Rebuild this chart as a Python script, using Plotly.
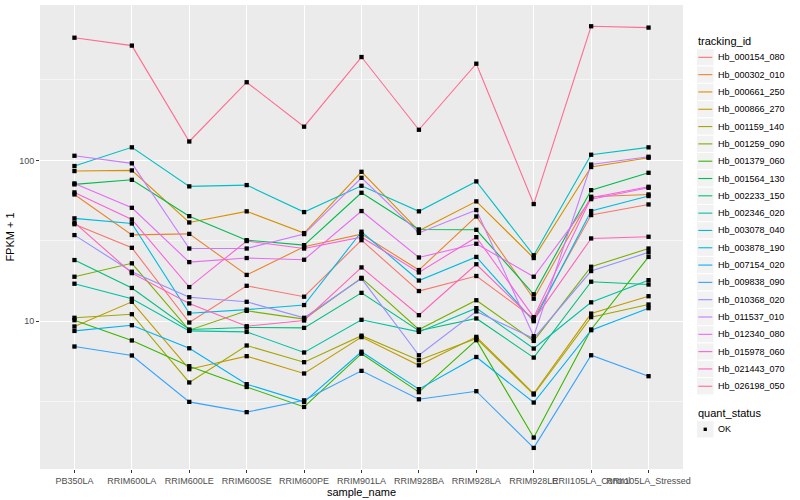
import plotly.graph_objects as go

samples = ["PB350LA", "RRIM600LA", "RRIM600LE", "RRIM600SE", "RRIM600PE", "RRIM901LA",
           "RRIM928BA", "RRIM928LA", "RRIM928LE", "RRII105LA_Control", "RRII105LA_Stressed"]

# FPKM + 1 values per tracking_id
Hb_000154_080 = [40.1, 28.6, 9.81, 16.6, 14.2, 31.9, 15.4, 19.1, 10.4, 45.7, 53.2]
Hb_000302_010 = [61.4, 34.4, 34.9, 19.4, 29.0, 34.8, 20.8, 44.8, 13.8, 59.4, 61.4]
Hb_000661_250 = [85.8, 86.6, 41.1, 48.2, 35.3, 84.9, 36.5, 55.6, 24.7, 90.9, 103.8]
Hb_000866_270 = [9.27, 13.2, 5.03, 6.06, 4.73, 7.96, 5.32, 7.99, 3.55, 11.15, 14.3]
Hb_001159_140 = [10.5, 11.05, 4.16, 7.06, 5.56, 8.13, 5.72, 7.81, 3.50, 10.6, 12.7]
Hb_001259_090 = [18.9, 22.9, 8.79, 11.6, 10.3, 18.6, 8.88, 13.5, 7.54, 21.8, 28.3]
Hb_001379_060 = [10.15, 7.59, 5.25, 3.90, 2.93, 6.28, 3.62, 7.62, 1.89, 8.88, 25.1]
Hb_001564_130 = [70.9, 75.7, 45.0, 31.9, 29.7, 62.9, 37.2, 37.0, 14.7, 65.3, 83.7]
Hb_002233_150 = [24.0, 16.1, 8.88, 9.14, 9.09, 15.0, 8.73, 10.4, 5.94, 17.6, 16.9]
Hb_002346_020 = [17.1, 13.8, 8.70, 8.58, 6.39, 10.2, 8.58, 12.05, 6.76, 13.1, 18.0]
Hb_003078_040 = [92.2, 120.5, 68.9, 70.2, 47.7, 69.5, 48.2, 74.0, 25.7, 108.4, 120.5]
Hb_003878_190 = [43.6, 40.5, 11.2, 11.8, 12.6, 36.0, 17.9, 25.1, 10.0, 48.4, 60.0]
Hb_007154_020 = [8.70, 9.44, 6.79, 4.06, 3.15, 6.46, 3.78, 5.99, 3.12, 8.79, 12.05]
Hb_009838_090 = [6.96, 6.12, 3.15, 2.72, 3.22, 4.91, 3.27, 3.67, 1.63, 6.14, 4.55]
Hb_010368_020 = [34.3, 20.3, 14.1, 13.2, 10.5, 18.4, 6.14, 11.5, 7.81, 20.5, 26.8]
Hb_011537_010 = [106.8, 95.8, 28.3, 28.3, 34.8, 77.9, 35.4, 49.1, 8.07, 94.2, 105.3]
Hb_012340_080 = [71.9, 50.7, 23.3, 24.7, 24.1, 48.4, 24.9, 30.3, 18.9, 57.4, 67.5]
Hb_015978_060 = [63.2, 42.9, 16.3, 31.5, 28.3, 33.3, 20.1, 33.3, 10.6, 58.5, 68.5]
Hb_021443_070 = [41.0, 19.9, 12.9, 9.31, 10.1, 21.6, 10.9, 22.6, 10.15, 32.7, 33.5]
Hb_026198_050 = [579, 517, 131, 306, 162, 439, 155, 399, 53.5, 682, 669]

tracking_ids = ["Hb_000154_080", "Hb_000302_010", "Hb_000661_250", "Hb_000866_270",
                "Hb_001159_140", "Hb_001259_090", "Hb_001379_060", "Hb_001564_130",
                "Hb_002233_150", "Hb_002346_020", "Hb_003078_040", "Hb_003878_190",
                "Hb_007154_020", "Hb_009838_090", "Hb_010368_020", "Hb_011537_010",
                "Hb_012340_080", "Hb_015978_060", "Hb_021443_070", "Hb_026198_050"]
series = [Hb_000154_080, Hb_000302_010, Hb_000661_250, Hb_000866_270, Hb_001159_140,
          Hb_001259_090, Hb_001379_060, Hb_001564_130, Hb_002233_150, Hb_002346_020,
          Hb_003078_040, Hb_003878_190, Hb_007154_020, Hb_009838_090, Hb_010368_020,
          Hb_011537_010, Hb_012340_080, Hb_015978_060, Hb_021443_070, Hb_026198_050]
quant_status = ["OK"]

colors = ["#F8766D", "#EA8331", "#D89000", "#C09B00", "#A3A500", "#7CAE00", "#39B600",
          "#00BB4E", "#00BF7D", "#00C1A3", "#00BFC4", "#00BAE0", "#00B0F6", "#35A2FF",
          "#9590FF", "#C77CFF", "#E76BF3", "#FA62DB", "#FF62BC", "#FF6C91"]

FONT = "Liberation Sans, Arial, sans-serif"

# plot area in pixels (for the hand-built ggplot-style legend)
L, R, T, B = 40, 683, 5, 468.7


def xp(px):
    return (px - L) / (R - L)


def yp(py):
    return (B - py) / (B - T)


fig = go.Figure()
for tid, vals, col in zip(tracking_ids, series, colors):
    fig.add_trace(go.Scatter(x=samples, y=vals, mode="lines", name=tid,
                             line=dict(color=col, width=1.1), showlegend=False))

all_x = [s for vals in series for s in samples]
all_y = [v for vals in series for v in vals]
fig.add_trace(go.Scatter(x=all_x, y=all_y, mode="markers", name=quant_status[0],
                         marker=dict(symbol="square", size=4.3, color="black"),
                         showlegend=False))

shapes = []
annotations = []
# legend: tracking_id
annotations.append(dict(text="tracking_id", x=xp(696), y=yp(40.7), xref="paper", yref="paper",
                        xanchor="left", yanchor="middle", showarrow=False,
                        font=dict(size=11, color="black")))
ROW = 17.3
TOP0 = 48.65
for i, (tid, col) in enumerate(zip(tracking_ids, colors)):
    top = TOP0 + i * ROW
    mid = top + ROW / 2
    shapes.append(dict(type="rect", xref="paper", yref="paper", x0=xp(696.5), x1=xp(714),
                       y0=yp(top), y1=yp(top + ROW), fillcolor="#F2F2F2",
                       line=dict(color="white", width=1), layer="above"))
    shapes.append(dict(type="line", xref="paper", yref="paper", x0=xp(698.3), x1=xp(712.3),
                       y0=yp(mid), y1=yp(mid), line=dict(color=col, width=1.1), layer="above"))
    annotations.append(dict(text=tid, x=xp(716), y=yp(mid), xref="paper", yref="paper",
                            xanchor="left", yanchor="middle", showarrow=False,
                            font=dict(size=9, color="black")))

# legend: quant_status
annotations.append(dict(text="quant_status", x=xp(696), y=yp(412.3), xref="paper", yref="paper",
                        xanchor="left", yanchor="middle", showarrow=False,
                        font=dict(size=11, color="black")))
k_top = 420.4
shapes.append(dict(type="rect", xref="paper", yref="paper", x0=xp(696.5), x1=xp(714),
                   y0=yp(k_top), y1=yp(k_top + ROW), fillcolor="#F2F2F2",
                   line=dict(color="white", width=1), layer="above"))
shapes.append(dict(type="rect", xref="paper", yref="paper", x0=xp(703.6), x1=xp(706.9),
                   y0=yp(k_top + ROW / 2 - 1.7), y1=yp(k_top + ROW / 2 + 1.7),
                   fillcolor="black", line=dict(width=0), layer="above"))
annotations.append(dict(text=quant_status[0], x=xp(716), y=yp(k_top + ROW / 2),
                        xref="paper", yref="paper", xanchor="left", yanchor="middle",
                        showarrow=False, font=dict(size=9, color="black")))

fig.update_layout(
    width=800, height=500,
    margin=dict(l=40, r=117, t=5, b=31.3, autoexpand=False),
    paper_bgcolor="white", plot_bgcolor="#EBEBEB",
    font=dict(family=FONT, color="black"),
    showlegend=False,
    xaxis=dict(type="category", range=[-0.6, 10.6], showgrid=True, gridcolor="white",
               gridwidth=1.1, zeroline=False, showline=False, ticks="outside", ticklen=3,
               tickcolor="#333333", tickangle=0, tickfont=dict(size=9, color="#4D4D4D"),
               title=dict(text="sample_name", font=dict(size=11), standoff=0)),
    yaxis=dict(type="log", range=[0.081, 2.966], tickmode="array", tickvals=[1, 10, 100, 1000],
               ticktext=["1", "10", "100", "1000"], showgrid=True, gridcolor="white",
               gridwidth=1.1, zeroline=False, showline=False, ticks="outside", ticklen=3,
               tickcolor="#333333", tickfont=dict(size=9, color="#4D4D4D"),
               minor=dict(tickmode="array", tickvals=[10 ** 0.5, 10 ** 1.5, 10 ** 2.5],
                          showgrid=True, gridcolor="#F6F6F6", gridwidth=0.8, ticks=""),
               title=dict(text="FPKM + 1", font=dict(size=11), standoff=2)),
    shapes=shapes,
    annotations=annotations,
)

fig.write_html("out.html", config={"displayModeBar": False},
               post_script="document.body.style.margin='0px';")
